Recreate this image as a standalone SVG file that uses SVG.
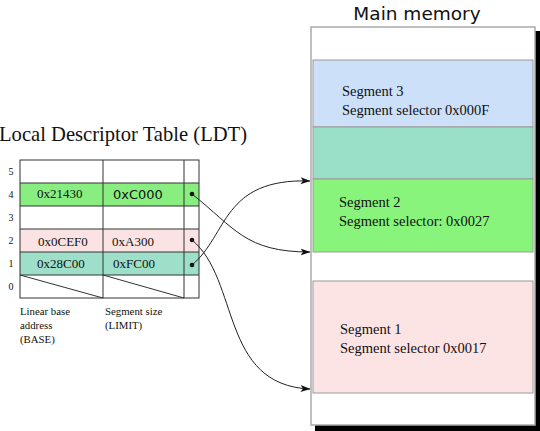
<svg xmlns="http://www.w3.org/2000/svg" width="540" height="431" viewBox="0 0 540 431">
<style>
.serif{font-family:"Liberation Serif","Times New Roman",serif;fill:#111}
.sans{font-family:"DejaVu Sans","Liberation Sans",sans-serif;fill:#111}
.seg{stroke:#9a9a9a;stroke-width:1}
.cell{stroke:#333;stroke-width:1;fill:none}
.conn{fill:none;stroke:#222;stroke-width:1}
.lbl{font-size:14.5px}
.val{font-size:13px}
.row{font-size:10px}
.cap{font-size:10.8px}
</style>
<defs>
<marker id="arr" viewBox="0 0 10 8" refX="9.5" refY="4" markerWidth="10" markerHeight="8" markerUnits="userSpaceOnUse" orient="auto">
<path d="M0,0.5 L10,4 L0,7.5 L2.5,4 Z" fill="#111"/>
</marker>
</defs>

<g id="main-memory">
<text class="sans" x="417" y="20" font-size="18.5" text-anchor="middle">Main memory</text>
<rect x="315" y="31" width="225" height="400" fill="#000"/>
<rect x="311" y="27" width="224" height="398" fill="#fff" stroke="#aaa" stroke-width="1.5"/>
</g>

<g id="segment-3">
<rect class="seg" x="313" y="60" width="220" height="67" fill="#cce0f9"/>
<text class="serif lbl" x="342" y="96">Segment 3</text>
<text class="serif lbl" x="342" y="115">Segment selector 0x000F</text>
</g>
<g id="segment-teal">
<rect class="seg" x="313" y="127" width="220" height="52" fill="#9ae0c8"/>
</g>
<g id="segment-2">
<rect class="seg" x="313" y="179" width="220" height="73" fill="#88f47c"/>
<text class="serif lbl" x="339" y="207">Segment 2</text>
<text class="serif lbl" x="339" y="226">Segment selector: 0x0027</text>
</g>
<g id="segment-1">
<rect class="seg" x="313" y="281" width="220" height="112" fill="#fde4e4"/>
<text class="serif lbl" x="340" y="334">Segment 1</text>
<text class="serif lbl" x="340" y="353">Segment selector 0x0017</text>
</g>

<g id="ldt">
<text class="serif" x="-1" y="141" font-size="20.6">Local Descriptor Table (LDT)</text>
<rect x="20" y="183" width="179" height="23" fill="#88ee80"/>
<rect x="20" y="229" width="179" height="23" fill="#fbe3e3"/>
<rect x="20" y="252" width="179" height="23" fill="#9ddfc9"/>
<rect class="cell" x="20" y="160" width="179" height="138"/>
<path class="cell" d="M20,183H199M20,206H199M20,229H199M20,252H199M20,275H199M103,160V298M184,160V298M20,275L103,298M103,275L184,298"/>
<text class="serif row" x="11" y="175" text-anchor="middle">5</text>
<text class="serif row" x="11" y="198" text-anchor="middle">4</text>
<text class="serif row" x="11" y="221" text-anchor="middle">3</text>
<text class="serif row" x="11" y="244" text-anchor="middle">2</text>
<text class="serif row" x="11" y="267" text-anchor="middle">1</text>
<text class="serif row" x="11" y="290" text-anchor="middle">0</text>
<text class="serif val" x="37" y="198">0x21430</text>
<text class="sans" x="113" y="199" font-size="13">0xC000</text>
<text class="serif val" x="38" y="246">0x0CEF0</text>
<text class="serif val" x="112" y="246">0xA300</text>
<text class="serif val" x="37" y="268">0x28C00</text>
<text class="serif val" x="113" y="268">0xFC00</text>
<circle cx="192" cy="194" r="2.3" fill="#111"/>
<circle cx="192" cy="240" r="2.3" fill="#111"/>
<circle cx="192" cy="265" r="2.3" fill="#111"/>
<text class="serif cap" x="20" y="315">Linear base</text>
<text class="serif cap" x="20" y="329">address</text>
<text class="serif cap" x="20" y="343">(BASE)</text>
<text class="serif cap" x="105" y="315">Segment size</text>
<text class="serif cap" x="105" y="329">(LIMIT)</text>
</g>

<g id="connectors">
<path class="conn" d="M192,194 C235,228 245,252 310,252" marker-end="url(#arr)"/>
<path class="conn" d="M192,265 C228,235 222,178 310,181" marker-end="url(#arr)"/>
<path class="conn" d="M192,240 C240,280 220,385 310,389" marker-end="url(#arr)"/>
</g>
</svg>
